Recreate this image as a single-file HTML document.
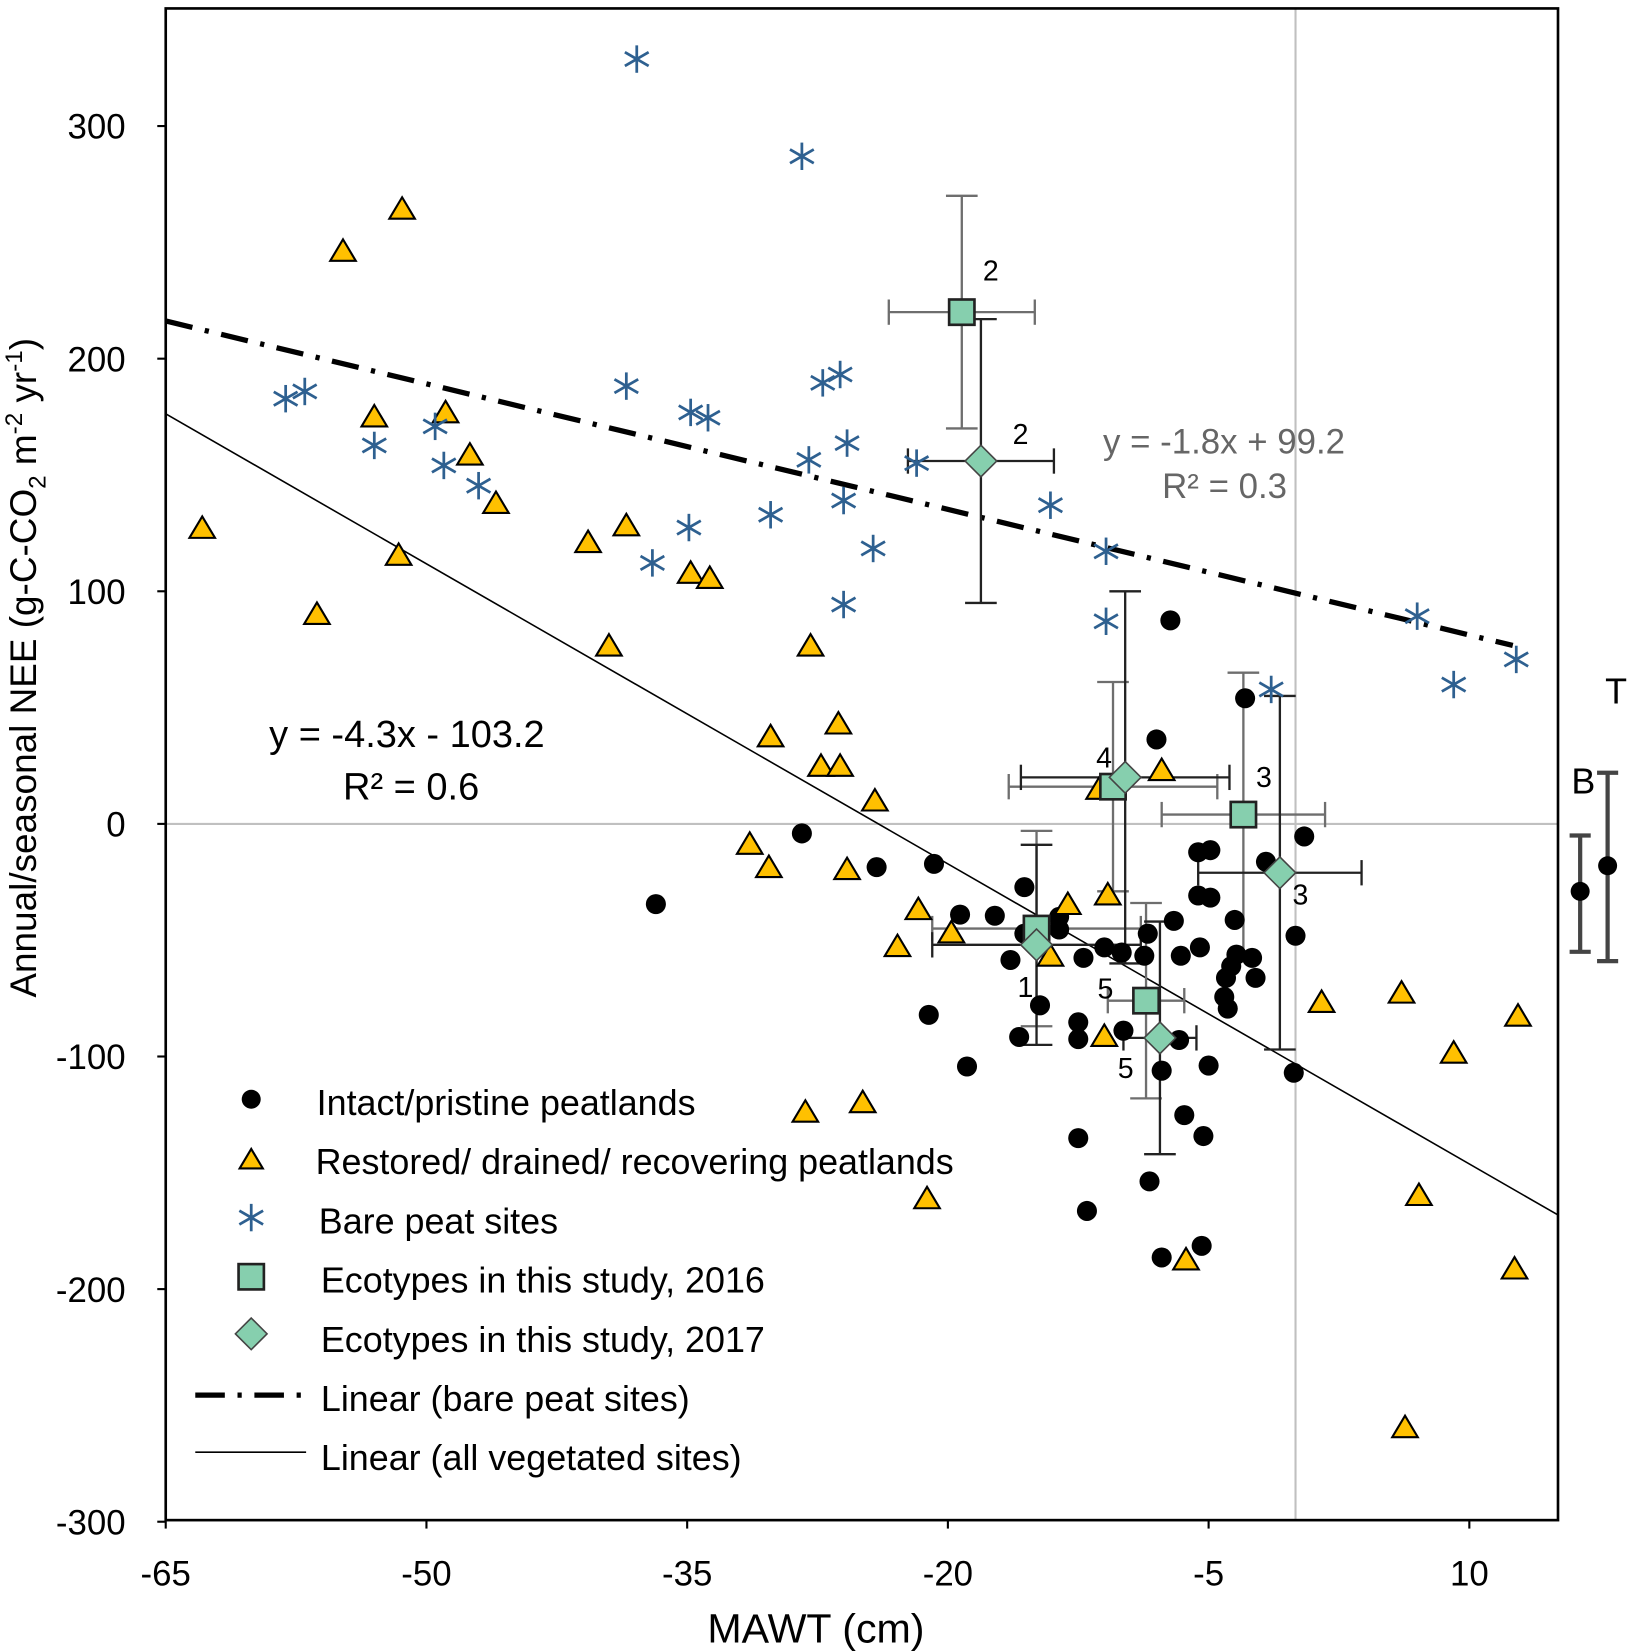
<!DOCTYPE html>
<html><head><meta charset="utf-8"><style>
html,body{margin:0;padding:0;background:#fff}
svg{display:block;font-family:"Liberation Sans",Arial,sans-serif}
</style></head><body>
<svg id="chart" width="1634" height="1652" viewBox="0 0 1548 1566" preserveAspectRatio="none" xmlns="http://www.w3.org/2000/svg">
<g id="plot"></g>
</svg>
<script>
const xTicks=[-65,-50,-35,-20,-5,10];
const yTicks=[300,200,100,0,-100,-200,-300];
const bareX=[-37.9,-28.4,-58.1,-57.0,-53.0,-49.5,-49.0,-47.0,-38.5,-34.8,-33.8,-37.0,-34.9,-30.2,-28.0,-27.2,-26.2,-25.8,-26.0,-24.3,-26.0,-21.8,-14.1,-10.9,-10.9,-1.4,7.0,9.1,12.7];
const bareY=[328.8,287,182.8,185.9,162.7,170.9,154.1,145.4,188.2,176.9,174.6,112.2,127.4,132.9,156.5,189.6,193.2,163.7,139.0,118.4,94.3,155.1,137.0,117.2,87.1,57.8,89.3,59.9,70.7];
const restX=[-51.4,-54.8,-62.9,-56.3,-53.0,-48.9,-47.5,-46.0,-51.6,-40.7,-38.5,-34.8,-33.7,-39.5,-27.9,-30.2,-26.3,-27.3,-26.2,-24.2,-31.4,-30.3,-25.8,-21.7,-19.8,-22.9,-14.1,-13.1,-10.8,-11.3,-7.7,-11.0,-28.2,-24.9,-21.2,-6.3,1.5,6.1,12.8,9.1,7.1,12.6,6.3];
const restY=[264.4,246.3,127.2,90.2,175.1,176.9,158.7,137.9,115.6,121.1,128.3,107.9,105.7,76.6,76.6,37.6,43.1,24.9,24.9,10,-8.6,-18.6,-19.5,-36.7,-46.7,-52.6,-56.7,-34.5,-30.4,15.0,23.1,-91.2,-123.8,-119.7,-161.0,-187.3,-76.6,-72.6,-82.5,-98.4,-159.6,-191.2,-259.4];
const intactX=[-7.2,-2.9,-8.0,-28.4,-36.8,-20.8,-24.1,0.5,-5.6,-4.9,-1.7,-5.6,-4.9,0.0,-19.3,-17.3,-15.6,-13.6,-13.6,-15.6,-16.4,-12.2,-11.0,-10.0,-8.7,-8.5,-7.0,-6.6,-5.5,-3.5,-3.4,-3.7,-2.5,-4.0,-4.1,-3.9,-2.3,-21.1,-18.9,-15.9,-14.7,-12.5,-12.5,-9.9,-6.7,-7.7,-5.0,-0.1,-6.4,-5.3,-12.5,-12.0,-8.4,-7.7,-5.4];
const intactY=[87.5,54.0,36.3,-4.1,-34.5,-17.2,-18.6,-5.4,-12.2,-11.3,-16.3,-30.8,-31.7,-48.1,-39.0,-39.5,-27.2,-40.0,-45.4,-47.2,-58.5,-57.6,-53.1,-55.3,-56.7,-47.2,-41.7,-56.7,-53.1,-41.3,-56.2,-61.2,-57.6,-66.2,-74.4,-79.4,-66.2,-82.1,-104.3,-91.6,-78.0,-85.3,-92.5,-88.9,-92.9,-106.1,-103.9,-107.0,-125.2,-134.2,-135.1,-166.4,-153.7,-186.4,-181.4];
const eco16X=[-14.9,-19.2,-3.0,-10.5,-8.6];
const eco16Y=[-45,220,4,16,-76];
const eco16Ex=[6,4.2,4.7,6,2.2];
const eco16Ey=[42,50,61,45,42];
const eco17X=[-14.9,-18.1,-0.9,-9.8,-7.8];
const eco17Y=[-52,156,-21,20,-92];
const eco17Ex=[6,4.2,4.7,6,2.1];
const eco17Ey=[43,61,76,80,50];
const eco16Labels=["1","2","3","4","5"];
const eco17Labels=["","2","3","","5"];
const bareFit=[-1.8,99.2];
const vegFit=[-4.3,-103.2];
const sideY=[-29,-18];
const sideLo=[-55,-59];
const sideHi=[-5,22];
const sideLabels=["B","T"];

const L=157,R=1476,T=8,B=1441;
const sx=v=>157+(v+65)*16.4667;
const sy=v=>781-v*2.205;
const NS="http://www.w3.org/2000/svg";
const svg=document.getElementById('chart');
function mk(tag,attrs,parent){const e=document.createElementNS(NS,tag);for(const k in attrs)e.setAttribute(k,attrs[k]);(parent||svg).appendChild(e);return e;}
function txt(x,y,s,attrs){const e=mk('text',Object.assign({x:x,y:y},attrs||{}));e.textContent=s;return e;}

let e=mk('line',{x1:L,x2:R,y1:sy(0),y2:sy(0),stroke:'#c0c0c0','stroke-width':2});


e=mk('line',{x1:sx(0),x2:sx(0),y1:T,y2:B,stroke:'#c0c0c0','stroke-width':2});



xTicks.forEach(t=>{
  const l=mk('line',{x1:sx(t),x2:sx(t),y1:B,y2:B+8,stroke:'#000','stroke-width':2});
  
  
  const s=txt(sx(t),B+62,String(t),{'font-size':33,'text-anchor':'middle'});
  
  
});
yTicks.forEach(t=>{
  const l=mk('line',{x1:L-8,x2:L,y1:sy(t),y2:sy(t),stroke:'#000','stroke-width':2});
  
  
  const s=txt(L-38,sy(t)+12,String(t),{'font-size':33,'text-anchor':'end'});
  
  
});

function fitLine(f,x0,x1,attrs,name){
  const l=mk('line',Object.assign({x1:sx(x0),x2:sx(x1),y1:sy(f[0]*x0+f[1]),y2:sy(f[0]*x1+f[1])},attrs));
  
  
}
fitLine(vegFit,-65,15.1,{stroke:'#000','stroke-width':1.5},'vegetated-fit-line');
fitLine(bareFit,-65,12.5,{stroke:'#000','stroke-width':5,'stroke-dasharray':'26 12 4 12'},'bare-peat-fit-line');

function circle(x,y,r){return mk('circle',{cx:x,cy:y,r:r||9.5,fill:'#000'});}
function tri(x,y,s){s=s||11;return mk('polygon',{points:`${x},${y-s} ${x+s*1.1},${y+s*0.85} ${x-s*1.1},${y+s*0.85}`,fill:'#ffc000',stroke:'#000','stroke-width':2});}
function star(x,y){const g=mk('g',{stroke:'#2e6090','stroke-width':2.6,fill:'none'});const r=13;
  [[0,1],[0.866,0.5],[0.866,-0.5]].forEach(d=>mk('line',{x1:x-d[0]*r,y1:y-d[1]*r,x2:x+d[0]*r,y2:y+d[1]*r},g));return g;}
function sq(x,y){return mk('rect',{x:x-12,y:y-12,width:24,height:24,fill:'#86cfae',stroke:'#222','stroke-width':2.5});}
function dia(x,y){return mk('polygon',{points:`${x},${y-15} ${x+15},${y} ${x},${y+15} ${x-15},${y}`,fill:'#86cfae',stroke:'#444','stroke-width':1.5});}

function ebar(x,y,ex,ey,col,name){
  const g=mk('g',{stroke:col,'stroke-width':2.2});
  
  
  const x0=sx(x-ex),x1=sx(x+ex),y0=sy(y+ey),y1=sy(y-ey),cx=sx(x),cy=sy(y);
  mk('line',{x1:x0,x2:x1,y1:cy,y2:cy},g);
  mk('line',{x1:cx,x2:cx,y1:y0,y2:y1},g);
  mk('line',{x1:x0,x2:x0,y1:cy-12,y2:cy+12},g);
  mk('line',{x1:x1,x2:x1,y1:cy-12,y2:cy+12},g);
  mk('line',{x1:cx-15,x2:cx+15,y1:y0,y2:y0},g);
  mk('line',{x1:cx-15,x2:cx+15,y1:y1,y2:y1},g);
}
eco16X.forEach((v,i)=>ebar(v,eco16Y[i],eco16Ex[i],eco16Ey[i],'#6e6e6e','eco-2016-error-bar'));
eco17X.forEach((v,i)=>ebar(v,eco17Y[i],eco17Ex[i],eco17Ey[i],'#222','eco-2017-error-bar'));

intactX.forEach((v,i)=>{const m=circle(sx(v),sy(intactY[i]));
  
  });
restX.forEach((v,i)=>{const m=tri(sx(v),sy(restY[i]));
  
  });
bareX.forEach((v,i)=>{const m=star(sx(v),sy(bareY[i]));
  
  });
eco16X.forEach((v,i)=>{const m=sq(sx(v),sy(eco16Y[i]));
  
  });
eco17X.forEach((v,i)=>{const m=dia(sx(v),sy(eco17Y[i]));
  
  });

const lab16=[[-18,65],[20,-30],[12,-26],[-16,-18],[-46,-2]];
const lab17=[[-18,50],[30,-16],[12,30],[-26,-20],[-40,38]];
eco16X.forEach((v,i)=>{if(!eco16Labels[i])return;const s=txt(sx(v)+lab16[i][0],sy(eco16Y[i])+lab16[i][1],eco16Labels[i],{'font-size':27});
  
  });
eco17X.forEach((v,i)=>{if(!eco17Labels[i])return;const s=txt(sx(v)+lab17[i][0],sy(eco17Y[i])+lab17[i][1],eco17Labels[i],{'font-size':27});
  
  });

const sideX=[1497,1523];
const sideLabelPos=[[1500,752],[1531,667]];
sideY.forEach((v,i)=>{
  const g=mk('g',{stroke:'#444','stroke-width':4});
  
  
  mk('line',{x1:sideX[i],x2:sideX[i],y1:sy(sideHi[i]),y2:sy(sideLo[i])},g);
  mk('line',{x1:sideX[i]-10,x2:sideX[i]+10,y1:sy(sideHi[i]),y2:sy(sideHi[i])},g);
  mk('line',{x1:sideX[i]-10,x2:sideX[i]+10,y1:sy(sideLo[i]),y2:sy(sideLo[i])},g);
  const c=circle(sideX[i],sy(v),9);
  
  
  const s=txt(sideLabelPos[i][0],sideLabelPos[i][1],sideLabels[i],{'font-size':34,'text-anchor':'middle'});
  
  
});

e=mk('rect',{x:L,y:T,width:R-L,height:B-T,fill:'none',stroke:'#000','stroke-width':2.5});



e=txt(1045,430,'y = -1.8x + 99.2',{'font-size':33,fill:'#666'});


e=txt(1101,472,'R² = 0.3',{'font-size':33,fill:'#666'});


e=txt(255,708,'y = -4.3x - 103.2',{'font-size':36});


e=txt(325,758,'R² = 0.6',{'font-size':36});



e=txt(773,1557,'MAWT (cm)',{'font-size':39,'text-anchor':'middle'});


e=mk('text',{x:0,y:0,'font-size':35,'text-anchor':'middle',transform:'translate(34,633) rotate(-90)'});
e.innerHTML='Annual/seasonal NEE (g-C-CO<tspan font-size="23" dy="9">2</tspan><tspan dy="-9"> m</tspan><tspan font-size="23" dy="-13">-2</tspan><tspan dy="13"> yr</tspan><tspan font-size="23" dy="-13">-1</tspan><tspan dy="13">)</tspan>';



const legendItems=['Intact/pristine peatlands','Restored/ drained/ recovering peatlands','Bare peat  sites','Ecotypes in this study, 2016','Ecotypes in this study, 2017','Linear (bare peat sites)','Linear (all vegetated sites)'];
const legendTextX=[300,299,302,304,304,304,304];
legendItems.forEach((s,i)=>{
  const y=1045+i*56.1;
  let m;
  if(i===0)m=circle(238,y-3,9);
  else if(i===1)m=tri(238,y-2,10);
  else if(i===2)m=star(238,y-3);
  else if(i===3)m=sq(238,y-3);
  else if(i===4)m=dia(238,y-5);
  else if(i===5)m=mk('line',{x1:185,x2:290,y1:y-3,y2:y-3,stroke:'#000','stroke-width':5,'stroke-dasharray':'28 12 4 12'});
  else m=mk('line',{x1:185,x2:290,y1:y-5,y2:y-5,stroke:'#000','stroke-width':1.5});
  
  
  const t=txt(legendTextX[i],y+12,s,{'font-size':34,'xml:space':'preserve'});
  
  
});
</script>
</body></html>
